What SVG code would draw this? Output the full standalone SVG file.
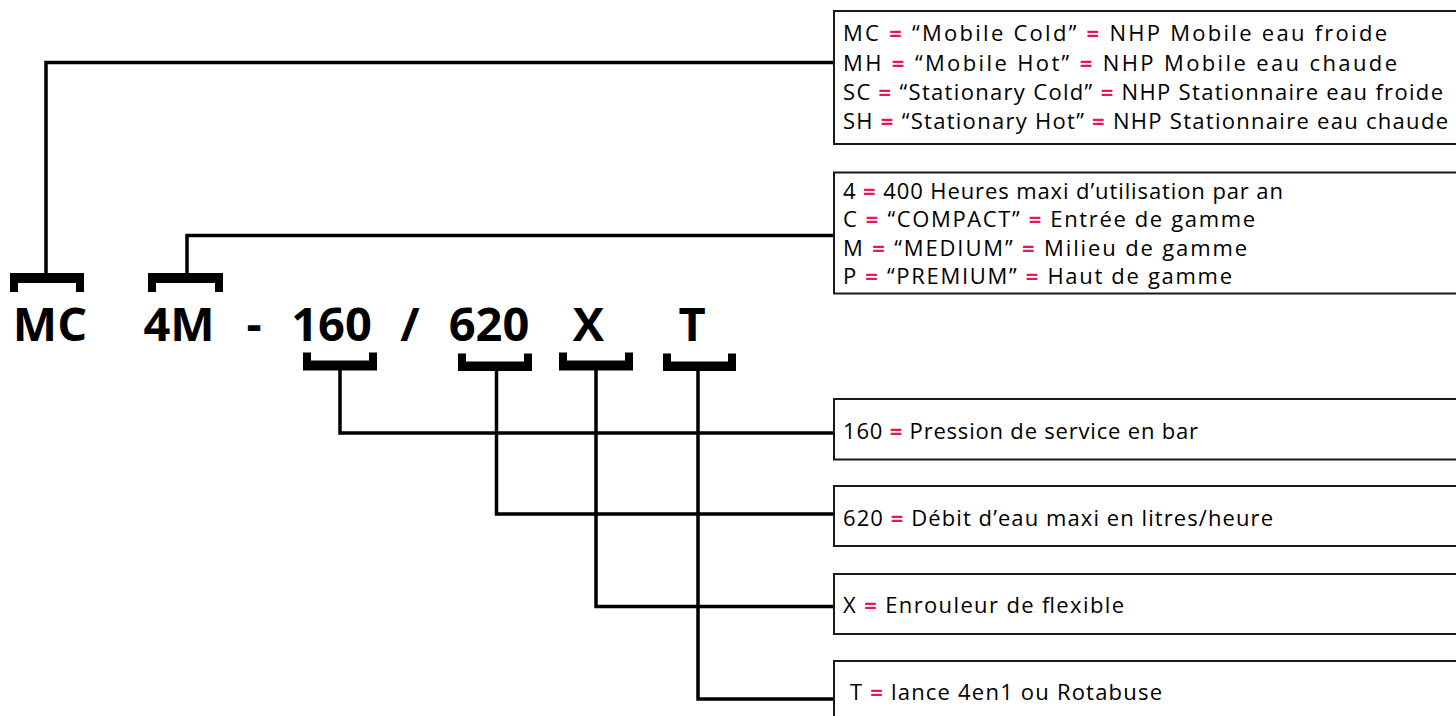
<svg xmlns="http://www.w3.org/2000/svg" width="1456" height="716" viewBox="0 0 1456 716">
<style>
.code{font-family:"Open Sans","Liberation Sans",sans-serif;font-weight:700;font-size:47px;fill:#000;text-anchor:middle}
.lbl{font-family:"Open Sans","Liberation Sans",sans-serif;font-size:22px;fill:#000}
.eq{fill:#e2185b;font-weight:700}
.box{fill:#fff;stroke:#1a1a1a;stroke-width:2}
.br{fill:#000}
.conn{fill:none;stroke:#000;stroke-width:3.5;stroke-linejoin:miter}
</style>
<rect width="1456" height="716" fill="#fff"/>
<g id="connectors">
<path class="conn" d="M46,273 V62.5 H834"/>
<path class="conn" d="M187,273 V235.5 H834"/>
<path class="conn" d="M340,370 V433 H834"/>
<path class="conn" d="M496.5,370 V514 H834"/>
<path class="conn" d="M596,370 V606.5 H834"/>
<path class="conn" d="M698,370 V699 H834"/>
</g>
<g id="code-MC">
<path class="br" d="M10,273 H84 V292 H76 V283 H18 V292 H10 Z"/>
<text class="code" x="50" y="341">MC</text>
</g>
<g id="code-4M">
<path class="br" d="M148,273 H223 V292 H215 V283 H156 V292 H148 Z"/>
<text class="code" x="179" y="341">4M</text>
</g>
<g id="code-dash">
<text class="code" x="254" y="341">-</text>
</g>
<g id="code-160">
<path class="br" d="M303,352.5 H311 V360.5 H369 V352.5 H377 V370.5 H303 Z"/>
<text class="code" x="331.5" y="341">160</text>
</g>
<g id="code-slash">
<text class="code" x="410" y="341">/</text>
</g>
<g id="code-620">
<path class="br" d="M458,353.5 H466 V361.5 H524 V353.5 H532 V371 H458 Z"/>
<text class="code" x="489" y="341">620</text>
</g>
<g id="code-X">
<path class="br" d="M559,352.5 H567 V360.5 H625 V352.5 H633 V370.5 H559 Z"/>
<text class="code" x="588.5" y="341">X</text>
</g>
<g id="code-T">
<path class="br" d="M663,353.5 H671 V361.5 H728 V353.5 H736 V371 H663 Z"/>
<text class="code" x="692" y="341">T</text>
</g>
<g id="box-type">
<rect class="box" x="834" y="11" width="640" height="133"/>
<text class="lbl" x="843" y="41" textLength="544">MC <tspan class="eq">=</tspan> “Mobile Cold” <tspan class="eq">=</tspan> NHP Mobile eau froide</text>
<text class="lbl" x="843" y="70.5" textLength="554">MH <tspan class="eq">=</tspan> “Mobile Hot” <tspan class="eq">=</tspan> NHP Mobile eau chaude</text>
<text class="lbl" x="843" y="99.5" textLength="600">SC <tspan class="eq">=</tspan> “Stationary Cold” <tspan class="eq">=</tspan> NHP Stationnaire eau froide</text>
<text class="lbl" x="843" y="128.5" textLength="605">SH <tspan class="eq">=</tspan> “Stationary Hot” <tspan class="eq">=</tspan> NHP Stationnaire eau chaude</text>
</g>
<g id="box-range">
<rect class="box" x="834" y="172.5" width="640" height="121"/>
<text class="lbl" x="843" y="198.5" textLength="440">4 <tspan class="eq">=</tspan> 400 Heures maxi d’utilisation par an</text>
<text class="lbl" x="843" y="227" textLength="412">C <tspan class="eq">=</tspan> “COMPACT” <tspan class="eq">=</tspan> Entrée de gamme</text>
<text class="lbl" x="843" y="255.5" textLength="404">M <tspan class="eq">=</tspan> “MEDIUM” <tspan class="eq">=</tspan> Milieu de gamme</text>
<text class="lbl" x="843" y="284" textLength="389">P <tspan class="eq">=</tspan> “PREMIUM” <tspan class="eq">=</tspan> Haut de gamme</text>
</g>
<g id="box-pressure">
<rect class="box" x="834" y="399" width="640" height="60.5"/>
<text class="lbl" x="843" y="438.5" textLength="355">160 <tspan class="eq">=</tspan> Pression de service en bar</text>
</g>
<g id="box-flow">
<rect class="box" x="834" y="486" width="640" height="60"/>
<text class="lbl" x="843" y="526" textLength="430">620 <tspan class="eq">=</tspan> Débit d’eau maxi en litres/heure</text>
</g>
<g id="box-reel">
<rect class="box" x="834" y="574" width="640" height="60"/>
<text class="lbl" x="843" y="612.5" textLength="281">X <tspan class="eq">=</tspan> Enrouleur de flexible</text>
</g>
<g id="box-lance">
<rect class="box" x="834" y="661" width="640" height="70"/>
<text class="lbl" x="850" y="700" textLength="312">T <tspan class="eq">=</tspan> lance 4en1 ou Rotabuse</text>
</g>
</svg>
